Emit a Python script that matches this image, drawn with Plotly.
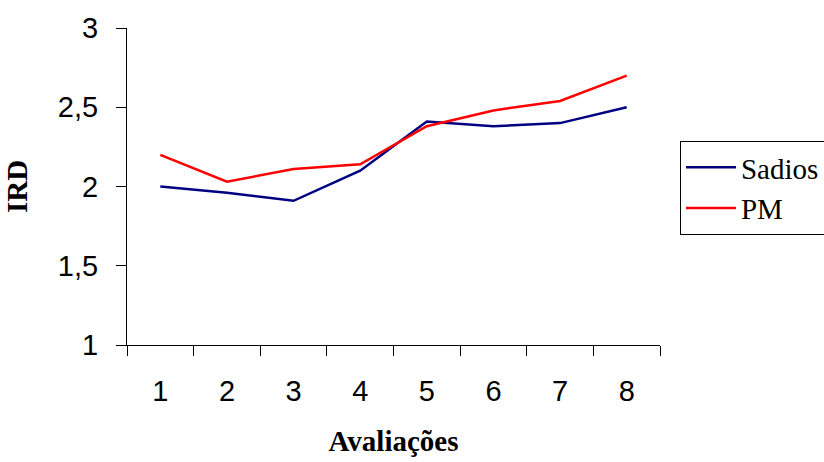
import plotly.graph_objects as go

# Avaliações (assessment rounds) and mean IRD per group
avaliacoes = ["1", "2", "3", "4", "5", "6", "7", "8"]
sadios = [2.00, 1.96, 1.91, 2.10, 2.41, 2.38, 2.40, 2.50]
pm = [2.20, 2.03, 2.11, 2.14, 2.38, 2.48, 2.54, 2.70]
y_ticks = [1, 1.5, 2, 2.5, 3]
y_tick_text = ["1", "1,5", "2", "2,5", "3"]

fig = go.Figure()
fig.add_trace(go.Scatter(
    x=avaliacoes, y=sadios, name="Sadios", mode="lines",
    line=dict(color="#000080", width=2.5), legendgroup="a",
))
fig.add_trace(go.Scatter(
    x=avaliacoes, y=pm, name="PM", mode="lines",
    line=dict(color="#FF0000", width=2.5), legendgroup="b",
))

axis_font = dict(family="Liberation Sans, Arial", size=29, color="black")
title_font = dict(family="Liberation Serif, Times New Roman", size=29, color="black")

fig.update_layout(
    width=824, height=462,
    margin=dict(l=127, r=164, t=28, b=117, autoexpand=False),
    paper_bgcolor="white", plot_bgcolor="white",
    showlegend=True,
    legend=dict(
        x=1.0375, y=0.6435, xanchor="left", yanchor="top",
        font=dict(family="Liberation Serif, Times New Roman", size=29, color="black"),
        bordercolor="black", borderwidth=1, bgcolor="white",
        traceorder="grouped", tracegroupgap=0, itemwidth=50,
    ),
    xaxis=dict(
        type="category", range=[-0.5, 7.5], tickson="boundaries",
        showline=True, linecolor="black", linewidth=1,
        ticks="outside", ticklen=10, tickcolor="black",
        tickfont=axis_font, ticklabelstandoff=20,
        showgrid=False, zeroline=False,
        title=dict(text="<b>Avaliações</b>", font=title_font, standoff=24),
    ),
    yaxis=dict(
        range=[1, 3], tickvals=y_ticks, ticktext=y_tick_text,
        showline=True, linecolor="black", linewidth=1,
        ticks="outside", ticklen=10, tickcolor="black",
        tickfont=axis_font, ticklabelstandoff=12,
        showgrid=False, zeroline=False,
        title=dict(text="<b>IRD</b>", font=title_font, standoff=21),
    ),
)

fig.write_html("out.html")
